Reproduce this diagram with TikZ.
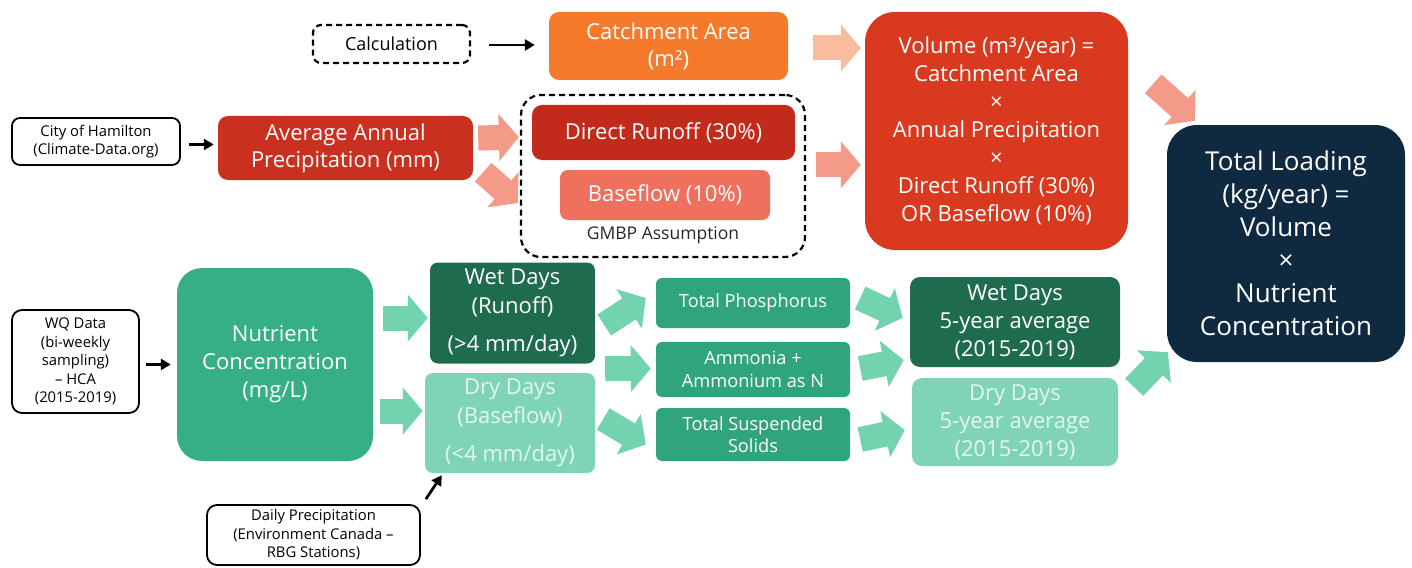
\documentclass[tikz,border=0pt]{standalone}
\usepackage{fontspec}
\setmainfont{Open Sans}
\usetikzlibrary{arrows.meta,calc}
\definecolor{corange}{HTML}{F57A2C}
\definecolor{cvol}{HTML}{D93A1F}
\definecolor{cavg}{HTML}{C93020}
\definecolor{cdr}{HTML}{C22B1C}
\definecolor{cbf}{HTML}{F0705E}
\definecolor{cpeach}{HTML}{F9BC9E}
\definecolor{csalmon}{HTML}{F39A88}
\definecolor{cnavy}{HTML}{0F2A40}
\definecolor{cgreen}{HTML}{36AF85}
\definecolor{cdgreen}{HTML}{1E6B4E}
\definecolor{cpgreen}{HTML}{7FD4B5}
\definecolor{cmgreen}{HTML}{30A47B}
\definecolor{cgarrow}{HTML}{74D3AF}
\definecolor{cpaletext}{HTML}{E4F7EF}
\tikzset{
  fbox/.style={inner sep=0pt, align=center, text=white},
  srcbox/.style={draw=black, line width=1.8pt, rounded corners=8pt, fill=white, text=black, align=center, inner sep=0pt, font=\fontsize{14.8}{18.5}\selectfont},
  blk/.style={line width=2.8pt, -{Triangle[length=10pt,width=11pt]}},
  parr/.style={line width=25pt, -{Triangle[length=20pt,width=46pt]}},
  bigtxt/.style={font=\fontsize{22}{28}\selectfont},
}
\begin{document}
\begin{tikzpicture}[x=1pt,y=-1pt]
\useasboundingbox (0,0) rectangle (1412,567);
% --- top row
\node[srcbox, dashed, dash pattern=on 6pt off 4pt, line width=2.2pt, minimum width=157pt, minimum height=38pt, font=\fontsize{18}{20}\selectfont] (calc) at (391.5,44) {Calculation};
\node[fbox, fill=corange, rounded corners=10pt, minimum width=239pt, minimum height=68pt, font=\fontsize{22}{27}\selectfont] (catch) at (668.5,46) {Catchment Area\\(m²)};
\node[fbox, fill=cvol, rounded corners=30pt, minimum width=263pt, minimum height=238pt, bigtxt] (vol) at (996.5,131) {Volume (m³/year) =\\Catchment Area\\×\\Annual Precipitation\\×\\Direct Runoff (30\%)\\OR Baseflow (10\%)};
% --- second row
\node[srcbox, minimum width=168pt, minimum height=47pt] (city) at (96,141.5) {City of Hamilton\\(Climate-Data.org)};
\node[fbox, fill=cavg, rounded corners=10pt, minimum width=255pt, minimum height=64pt, font=\fontsize{22}{27}\selectfont] (avg) at (345.5,148) {Average Annual\\Precipitation (mm)};
\node[draw=black, dashed, dash pattern=on 6pt off 4pt, line width=2.2pt, rounded corners=20pt, minimum width=284pt, minimum height=162pt, inner sep=0pt] (gmbp) at (663,176) {};
\node[fbox, fill=cdr, rounded corners=10pt, minimum width=263pt, minimum height=55pt, bigtxt] (dr) at (663.5,132.5) {Direct Runoff (30\%)};
\node[fbox, fill=cbf, rounded corners=8pt, minimum width=210pt, minimum height=50pt, bigtxt] (bf) at (665,195) {Baseflow (10\%)};
\node[inner sep=0pt, font=\fontsize{17.5}{20}\selectfont, text=black!85] (gmbplab) at (663,235) {GMBP Assumption};
\node[fbox, fill=cnavy, rounded corners=30pt, minimum width=238pt, minimum height=237pt, font=\fontsize{26}{33}\selectfont] (total) at (1286,243.5) {Total Loading\\(kg/year) =\\Volume\\×\\Nutrient\\Concentration};
% --- green part
\node[srcbox, rounded corners=10pt, minimum width=127pt, minimum height=103pt] (wq) at (75.5,361.5) {WQ Data\\(bi-weekly\\sampling)\\– HCA\\(2015-2019)};
\node[fbox, fill=cgreen, rounded corners=25pt, minimum width=196pt, minimum height=193pt, bigtxt] (nut) at (275,364.5) {Nutrient\\Concentration\\(mg/L)};
\node[fbox, fill=cdgreen, rounded corners=8pt, minimum width=165pt, minimum height=101pt, font=\fontsize{22}{29}\selectfont] (wet) at (512.5,313) {Wet Days\\(Runoff)\\[9pt](>4 mm/day)};
\node[fbox, fill=cpgreen, text=cpaletext, rounded corners=8pt, minimum width=170pt, minimum height=100pt, font=\fontsize{22}{29}\selectfont] (dry) at (510,423) {Dry Days\\(Baseflow)\\[9pt](<4 mm/day)};
\node[srcbox, rounded corners=10pt, minimum width=213pt, minimum height=60pt] (daily) at (313.5,535) {Daily Precipitation\\(Environment Canada –\\RBG Stations)};
\node[fbox, fill=cmgreen, rounded corners=6pt, minimum width=194pt, minimum height=50pt, font=\fontsize{18.2}{22.5}\selectfont] (tp) at (753,303) {Total Phosphorus};
\node[fbox, fill=cmgreen, rounded corners=6pt, minimum width=194pt, minimum height=55pt, font=\fontsize{18.2}{22.5}\selectfont] (amm) at (753,369.5) {Ammonia +\\Ammonium as N};
\node[fbox, fill=cmgreen, rounded corners=6pt, minimum width=194pt, minimum height=53pt, font=\fontsize{18.2}{22.5}\selectfont] (tss) at (753,434.5) {Total Suspended\\Solids};
\node[fbox, fill=cdgreen, rounded corners=10pt, minimum width=210pt, minimum height=90pt, font=\fontsize{22}{28}\selectfont] (wet5) at (1015,322) {Wet Days\\5-year average\\(2015-2019)};
\node[fbox, fill=cpgreen, text=cpaletext, rounded corners=10pt, minimum width=206pt, minimum height=88pt, font=\fontsize{22}{28}\selectfont] (dry5) at (1015,422) {Dry Days\\5-year average\\(2015-2019)};
% --- black arrows
\draw[blk] ($(calc.east)+(18,1)$) -- ($(catch.west)+(-14,-1)$);
\draw[blk] ($(city.east)+(8,3)$) -- ($(avg.west |- city.east)+(-4,3)$);
\draw[blk] ($(wq.east)+(6,3)$) -- ($(nut.west |- wq.east)+(-6,3)$);
\draw[blk] ($(daily.north east)+(5,-5)$) -- ($(dry.south west)+(17,2)$);
% --- pale block arrows (red part)
\draw[parr, cpeach] ($(catch.east)+(25,2)$) -- ($(vol.west |- catch.east)+(-4,2)$);
\draw[parr, csalmon] ($(gmbp.east |- bf.north)+(10,-5)$) -- ($(vol.west |- bf.north)+(-4,-5)$);
\draw[parr, csalmon] ($(avg.east)+(5,-10)$) -- ($(gmbp.west |- avg.east)+(-1,-11)$);
\draw[parr, csalmon] ($(avg.south east)+(10,-8)$) -- ($(gmbp.west |- bf.center)+(-2,8)$);
\draw[parr, csalmon] ($(vol.north east)+(25,72)$) -- ($(total.north west)+(28,-4)$);
% --- green block arrows
\draw[parr, cgarrow] ($(nut.east |- wet.center)+(10,5)$) -- ($(wet.west)+(-2,5)$);
\draw[parr, cgarrow] ($(nut.east |- dry.center)+(7,-12)$) -- ($(dry.west)+(-2,-12)$);
\draw[parr, cgarrow] ($(wet.east)+(9,12)$) -- ($(tp.west)+(-10,-5)$);
\draw[parr, cgarrow] ($(wet.south east)+(10,5)$) -- ($(amm.west)+(-5,-1)$);
\draw[parr, cgarrow] ($(dry.east)+(8,-4)$) -- ($(tss.west)+(-10,10)$);
\draw[parr, cgarrow] ($(tp.east)+(10,-5)$) -- ($(wet5.west)+(-7,-4)$);
\draw[parr, cgarrow] ($(amm.east)+(10,-1)$) -- ($(wet5.west)+(-6,38)$);
\draw[parr, cgarrow] ($(tss.east)+(10,5)$) -- ($(dry5.west)+(-7,8)$);
\draw[parr, cgarrow] ($(wet5.south east)+(14,20)$) -- ($(total.south west)+(1,-10)$);
\end{tikzpicture}
\end{document}
